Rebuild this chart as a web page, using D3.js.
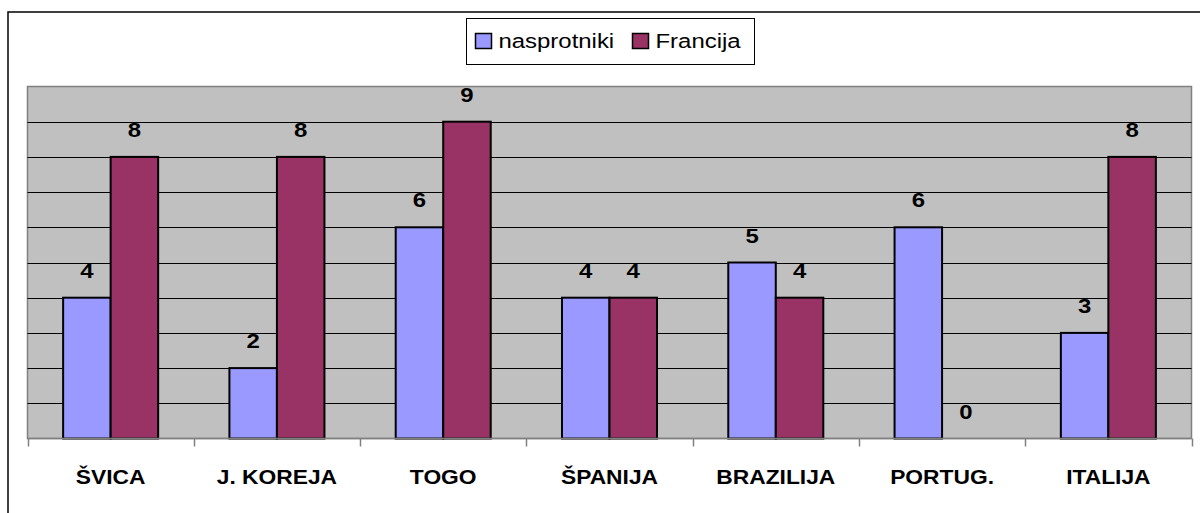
<!DOCTYPE html>
<html>
<head>
<meta charset="utf-8">
<script src="https://cdn.jsdelivr.net/npm/d3@7"></script>
<style>
  html, body { margin: 0; padding: 0; background: #fff; }
  svg { display: block; }
  text { font-family: Arial, "Liberation Sans", sans-serif; }
</style>
</head>
<body>
<svg id="chart" width="1200" height="513"></svg>
<script>
const categories = ["ŠVICA", "J. KOREJA", "TOGO", "ŠPANIJA", "BRAZILIJA", "PORTUG.", "ITALIJA"];
const seriesNames = ["nasprotniki", "Francija"];
const nasprotniki = [4, 2, 6, 4, 5, 6, 3];
const francija = [8, 8, 9, 4, 4, 0, 8];
const seriesColors = ["#9999FF", "#993366"];
const yTicks = [0, 1, 2, 3, 4, 5, 6, 7, 8, 9, 10];

const svg = d3.select("#chart");
const plot = { left: 27.5, right: 1191.5, top: 86.5, bottom: 438.5 };
const stretch = 1.14; // text is drawn slightly wide

// chart frame
svg.append("rect").attr("x", 8).attr("y", 12).attr("width", 1200).attr("height", 520)
  .attr("fill", "#fff").attr("stroke", "#000").attr("stroke-width", 1.5);

const x0 = d3.scaleBand().domain(categories).range([plot.left, plot.right]).paddingInner(0).paddingOuter(0);
const groupW = x0.bandwidth();
const barW = groupW / 3.5;
const x1 = d3.scaleBand().domain(seriesNames).range([(groupW - 2 * barW) / 2, (groupW + 2 * barW) / 2]);
const y = d3.scaleLinear().domain([0, 10]).range([plot.bottom, plot.top]);

// plot area
svg.append("rect").attr("x", plot.left).attr("y", plot.top)
  .attr("width", plot.right - plot.left).attr("height", plot.bottom - plot.top)
  .attr("fill", "#C0C0C0").attr("stroke", "#808080").attr("stroke-width", 1.5);

// horizontal gridlines
svg.append("g").selectAll("line").data(yTicks.filter(t => t > 0 && t < 10)).join("line")
  .attr("x1", plot.left).attr("x2", plot.right)
  .attr("y1", d => Math.round(y(d)) + 0.5).attr("y2", d => Math.round(y(d)) + 0.5)
  .attr("stroke", "#000").attr("stroke-width", 1);

// bars
const data = categories.map((c, i) => ({ cat: c, vals: [nasprotniki[i], francija[i]] }));
const groups = svg.append("g").selectAll("g").data(data).join("g")
  .attr("transform", d => `translate(${x0(d.cat)},0)`);

groups.selectAll("rect").data(d => d.vals.map((v, j) => ({ v, s: seriesNames[j], j })))
  .join("rect")
  .attr("x", d => x1(d.s))
  .attr("y", d => y(d.v))
  .attr("width", x1.bandwidth())
  .attr("height", d => y(0) - y(d.v))
  .attr("fill", d => seriesColors[d.j])
  .attr("stroke", d => d.v > 0 ? "#000" : "none")
  .attr("stroke-width", 2);

// value labels
groups.selectAll("text").data(d => d.vals.map((v, j) => ({ v, s: seriesNames[j] })))
  .join("text")
  .attr("transform", d => `translate(${x1(d.s) + x1.bandwidth() / 2},${y(d.v) - 20}) scale(${stretch},1)`)
  .attr("text-anchor", "middle")
  .attr("font-size", 21).attr("font-weight", "bold").attr("fill", "#000")
  .text(d => d.v);

// category axis
const xAxis = d3.axisBottom(x0).tickSize(0).tickFormat(d => d);
const axisG = svg.append("g").attr("transform", `translate(0,${plot.bottom})`).call(xAxis);
axisG.select(".domain").remove();
axisG.selectAll("text").attr("font-size", 20).attr("font-weight", "bold")
  .attr("fill", "#000").attr("dy", 0).attr("y", 0)
  .attr("transform", `translate(0,45) scale(${stretch},1)`)
  .style("font-family", "Arial, 'Liberation Sans', sans-serif");

svg.append("line").attr("x1", plot.left).attr("x2", plot.right)
  .attr("y1", plot.bottom).attr("y2", plot.bottom).attr("stroke", "#808080").attr("stroke-width", 1.5);
svg.append("g").selectAll("line").data(d3.range(categories.length + 1)).join("line")
  .attr("x1", i => Math.round(plot.left + i * groupW) + 0.5)
  .attr("x2", i => Math.round(plot.left + i * groupW) + 0.5)
  .attr("y1", plot.bottom).attr("y2", plot.bottom + 8)
  .attr("stroke", "#808080").attr("stroke-width", 1.5);

// legend
const legend = svg.append("g");
legend.append("rect").attr("x", 466.5).attr("y", 18.5).attr("width", 288).attr("height", 46)
  .attr("fill", "#fff").attr("stroke", "#000").attr("stroke-width", 1);
const legendItems = [{ name: seriesNames[0], x: 475.5 }, { name: seriesNames[1], x: 632.5 }];
legendItems.forEach((it, i) => {
  legend.append("rect").attr("x", it.x).attr("y", 33.5).attr("width", 16).attr("height", 15)
    .attr("fill", seriesColors[i]).attr("stroke", "#000").attr("stroke-width", 1.5);
  legend.append("text").attr("transform", `translate(${it.x + 23},48) scale(${stretch},1)`)
    .attr("font-size", 21).attr("fill", "#000")
    .text(it.name);
});
</script>
</body>
</html>
